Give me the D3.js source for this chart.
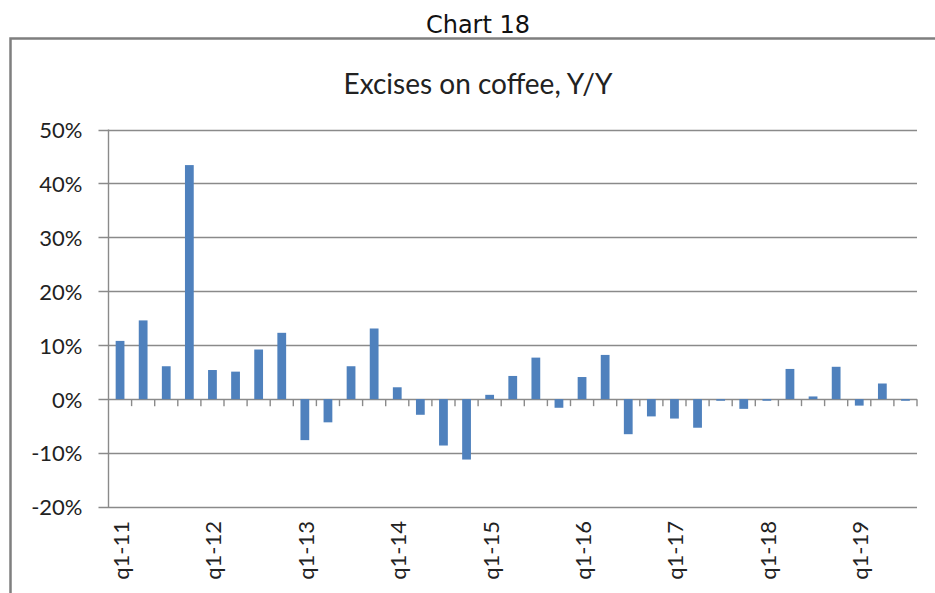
<!DOCTYPE html>
<html>
<head>
<meta charset="utf-8">
<script src="https://cdn.jsdelivr.net/npm/d3@7/dist/d3.min.js"></script>
<style>
  html, body { margin: 0; padding: 0; background: #fff; }
  svg { display: block; }
</style>
</head>
<body>
<svg id="chart" width="935" height="593"></svg>
<script>
// Quarterly year-over-year change in coffee excise revenue
const quarters = [
  "q1-11","q2-11","q3-11","q4-11",
  "q1-12","q2-12","q3-12","q4-12",
  "q1-13","q2-13","q3-13","q4-13",
  "q1-14","q2-14","q3-14","q4-14",
  "q1-15","q2-15","q3-15","q4-15",
  "q1-16","q2-16","q3-16","q4-16",
  "q1-17","q2-17","q3-17","q4-17",
  "q1-18","q2-18","q3-18","q4-18",
  "q1-19","q2-19","q3-19"
];
const yoyChange = [
  0.108, 0.146, 0.061, 0.434,
  0.054, 0.051, 0.092, 0.123,
  -0.076, -0.043, 0.061, 0.131,
  0.022, -0.029, -0.086, -0.112,
  0.008, 0.043, 0.077, -0.016,
  0.041, 0.082, -0.065, -0.032,
  -0.036, -0.053, -0.003, -0.018,
  -0.003, 0.056, 0.005, 0.060,
  -0.012, 0.029, -0.003
];
const yTicks = [-0.2, -0.1, 0, 0.1, 0.2, 0.3, 0.4, 0.5];
const labelEvery = 4;

const svg = d3.select("#chart");
const bodyFont = "Lato, Carlito, Calibri, sans-serif";

// Caption above the framed chart
svg.append("text")
  .attr("x", 478).attr("y", 33)
  .attr("text-anchor", "middle")
  .attr("font-family", "DejaVu Sans, Verdana, sans-serif")
  .attr("font-size", 24)
  .attr("fill", "#111")
  .text("Chart 18");

// Chart frame (runs past the right and bottom edges)
svg.append("rect")
  .attr("x", 10.5).attr("y", 38.5)
  .attr("width", 960).attr("height", 600)
  .attr("fill", "#fff")
  .attr("stroke", "#7f7f7f")
  .attr("stroke-width", 2.5);

// Chart title
svg.append("text")
  .attr("x", 478).attr("y", 94)
  .attr("text-anchor", "middle")
  .attr("font-family", bodyFont)
  .attr("font-size", 28)
  .attr("fill", "#222")
  .text("Excises on coffee, Y/Y");

const plot = { left: 108.5, right: 917, top: 129.5, bottom: 507 };

const x = d3.scaleBand()
  .domain(quarters)
  .range([plot.left, plot.right])
  .paddingInner(0.62)
  .paddingOuter(0.31);

const xStep = (plot.right - plot.left) / quarters.length;

const y = d3.scaleLinear()
  .domain([-0.2, 0.5])
  .range([plot.bottom, plot.top]);

// Percent labels with a plain hyphen for negatives
const pct = d => `${Math.round(d * 100)}%`;

const g = svg.append("g");

// Horizontal gridlines with outward tick stubs
g.append("g")
  .selectAll("line")
  .data(yTicks)
  .join("line")
  .attr("x1", plot.left - 10)
  .attr("x2", plot.right)
  .attr("y1", d => Math.round(y(d)) + 0.5)
  .attr("y2", d => Math.round(y(d)) + 0.5)
  .attr("stroke", "#8a8a8a")
  .attr("stroke-width", 1.4);

// Y axis labels
const yAxis = d3.axisLeft(y)
  .tickValues(yTicks)
  .tickFormat(pct)
  .tickSize(0)
  .tickPadding(26);

g.append("g")
  .attr("transform", `translate(${plot.left},0)`)
  .call(yAxis)
  .call(a => a.select(".domain").remove())
  .call(a => a.selectAll("text")
    .attr("font-family", bodyFont)
    .attr("font-size", 22)
    .attr("fill", "#222")
    .attr("dy", "0.36em"));

// Vertical axis line
g.append("line")
  .attr("x1", plot.left).attr("x2", plot.left)
  .attr("y1", plot.top).attr("y2", plot.bottom)
  .attr("stroke", "#8a8a8a")
  .attr("stroke-width", 1.4);

// Bars
g.append("g")
  .selectAll("rect")
  .data(quarters.map((q, i) => ({ q, v: yoyChange[i] })))
  .join("rect")
  .attr("x", d => x(d.q))
  .attr("width", x.bandwidth())
  .attr("y", d => Math.min(y(d.v), y(0)))
  .attr("height", d => Math.abs(y(d.v) - y(0)))
  .attr("fill", "#4f81bd");

// Category boundary ticks along the zero line
const boundaries = d3.range(quarters.length + 1).map(i => plot.left + i * xStep);
g.append("g")
  .selectAll("line")
  .data(boundaries.slice(1))
  .join("line")
  .attr("x1", d => d).attr("x2", d => d)
  .attr("y1", y(0)).attr("y2", y(0) + 7)
  .attr("stroke", "#8a8a8a")
  .attr("stroke-width", 1.4);

// Rotated category labels, every fourth quarter
g.append("g")
  .selectAll("text")
  .data(quarters.filter((q, i) => i % labelEvery === 0))
  .join("text")
  .attr("transform", d => `translate(${x(d) + x.bandwidth() / 2 + 1},${plot.bottom + 14}) rotate(-90)`)
  .attr("text-anchor", "end")
  .attr("dy", "0.36em")
  .attr("font-family", bodyFont)
  .attr("font-size", 22)
  .attr("fill", "#222")
  .text(d => d);
</script>
</body>
</html>
